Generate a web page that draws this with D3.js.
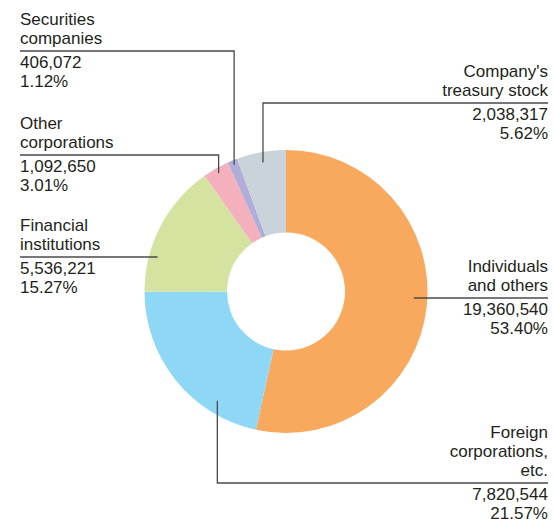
<!DOCTYPE html>
<html>
<head>
<meta charset="utf-8">
<script src="https://cdn.jsdelivr.net/npm/d3@7"></script>
<style>
  body { margin: 0; background: #fff; }
  text { font-family: "Liberation Sans", Arial, sans-serif; fill: #231f20; }
</style>
</head>
<body>
<div id="chart"></div>
<script>
// shareholder categories, clockwise from 12 o'clock
var categories = ["Individuals and others", "Foreign corporations, etc.", "Financial institutions",
                  "Other corporations", "Securities companies", "Company's treasury stock"];
var shares = [19360540, 7820544, 5536221, 1092650, 406072, 2038317];
var percents = ["53.40%", "21.57%", "15.27%", "3.01%", "1.12%", "5.62%"];
var labelLines = [["Individuals", "and others"], ["Foreign", "corporations,", "etc."], ["Financial", "institutions"],
                  ["Other", "corporations"], ["Securities", "companies"], ["Company's", "treasury stock"]];
var colors = ["#f8a95d", "#8ed8f6", "#d4e4a0", "#f5b0be", "#b0aed9", "#c9d4da"];

// label placement: side, y of rule, leader style
var labelPos = [
  {side: "right", ruleY: 298, lead: "h"},
  {side: "right", ruleY: 483, lead: "v"},
  {side: "left",  ruleY: 257, lead: "h"},
  {side: "left",  ruleY: 155, lead: "v"},
  {side: "left",  ruleY: 51,  lead: "v"},
  {side: "right", ruleY: 103, lead: "v"}
];
// leader end radius and angle shift from slice middle (radians)
var leadR = [128, 129, 133, 136, 137, 131];
var leadShift = [0, -0.33, 0, 0, 0, 0];

var width = 553, height = 523;
var cx = 286, cy = 291.5, outerR = 141.5, innerR = 59;
var leftX = 20, rightX = 548, lineH = 19, fontSize = "17px";

var svg = d3.select("#chart").append("svg")
  .attr("width", width).attr("height", height);

var pie = d3.pie().sort(null).value(function(d) { return d; });
var arcs = pie(shares);
var arc = d3.arc().innerRadius(innerR).outerRadius(outerR);

var g = svg.append("g").attr("transform", "translate(" + cx + "," + cy + ")");
g.selectAll("path")
  .data(arcs)
  .enter()
  .append("path")
  .attr("d", arc)
  .attr("fill", function(d, i) { return colors[i]; });

// leader lines and labels
arcs.forEach(function(a, i) {
  var p = labelPos[i];
  var mid = (a.startAngle + a.endAngle) / 2 + leadShift[i];
  var startX = p.side == "left" ? leftX : rightX;
  var pts;
  if (p.lead == "v") {
    var ex = cx + leadR[i] * Math.sin(mid);
    var ey = cy - leadR[i] * Math.cos(mid);
    pts = [[startX, p.ruleY], [ex, p.ruleY], [ex, ey]];
  } else {
    var dy = p.ruleY - cy;
    var hx = Math.sqrt(leadR[i] * leadR[i] - dy * dy);
    pts = [[startX, p.ruleY], [p.side == "left" ? cx - hx : cx + hx, p.ruleY]];
  }
  svg.append("path")
    .attr("d", d3.line()(pts))
    .attr("fill", "none")
    .attr("stroke", "#4a4a4a")
    .attr("stroke-width", 1.3);

  var anchor = p.side == "left" ? "start" : "end";
  var lines = labelLines[i];
  lines.forEach(function(t, j) {
    svg.append("text")
      .attr("x", startX)
      .attr("y", p.ruleY - 7 - (lines.length - 1 - j) * lineH)
      .attr("text-anchor", anchor)
      .style("font-size", fontSize)
      .text(t);
  });
  svg.append("text")
    .attr("x", startX).attr("y", p.ruleY + 17)
    .attr("text-anchor", anchor)
    .style("font-size", fontSize)
    .text(d3.format(",")(shares[i]));
  svg.append("text")
    .attr("x", startX).attr("y", p.ruleY + 17 + lineH)
    .attr("text-anchor", anchor)
    .style("font-size", fontSize)
    .text(percents[i]);
});
</script>
</body>
</html>
